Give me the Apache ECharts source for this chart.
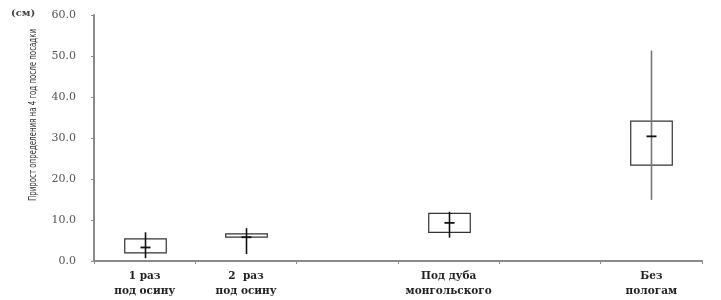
<!DOCTYPE html>
<html><head><meta charset="utf-8">
<script src="https://cdn.jsdelivr.net/npm/echarts@6/dist/echarts.min.js"></script>
<style>html,body{margin:0;padding:0;background:#fff}#c{width:721px;height:300px}</style>
</head><body><div id="c"></div>
<script>
const categories = ['1 раз\nпод осину', '2  раз\nпод осину', '', 'Под дуба\nмонгольского', '', 'Без\nпологам'];
const boxCategoryIndex = [0, 1, 3, 5];
const lowValues  = [0.7, 1.7, 5.7, 14.9];
const q1Values   = [2.0, 5.8, 7.0, 23.4];
const meanValues = [3.3, 5.8, 9.3, 30.4];
const q3Values   = [5.4, 6.6, 11.6, 34.1];
const highValues = [7.0, 8.0, 12.0, 51.3];
const yTicks = [0, 10, 20, 30, 40, 50, 60];
const yAxisTitle = 'Прирост определения на 4 год после посадки';
const unitLabel = '(см)';

const data = boxCategoryIndex.map((c, i) => [c, lowValues[i], q1Values[i], meanValues[i], q3Values[i], highValues[i]]);

const chart = echarts.init(document.getElementById('c'));
chart.setOption({
  animation: false,
  backgroundColor: '#fff',
  grid: { left: 94, right: 19, top: 15, bottom: 39 },
  xAxis: {
    type: 'category', data: categories, boundaryGap: true,
    axisLine: { lineStyle: { color: '#8a8a8a', width: 2 } },
    axisTick: { show: true, length: 3, lineStyle: { color: '#8a8a8a' } },
    axisLabel: { fontFamily: 'DejaVu Serif', fontWeight: 'bold', fontSize: 10.5, color: '#222', lineHeight: 15, margin: 8, interval: 0 }
  },
  yAxis: {
    type: 'value', min: yTicks[0], max: yTicks[yTicks.length - 1], interval: 10,
    splitLine: { show: false },
    axisLine: { show: true, lineStyle: { color: '#8a8a8a', width: 2 } },
    axisTick: { show: true, length: 3, lineStyle: { color: '#8a8a8a' } },
    axisLabel: { fontFamily: 'DejaVu Serif', fontSize: 11, color: '#555', margin: 18, formatter: v => v.toFixed(1) }
  },
  graphic: [
    { type: 'text', left: 11, top: 8, style: { text: unitLabel, font: 'bold 10px DejaVu Serif', fill: '#444' } },
    { type: 'text', x: 28, y: 201, rotation: Math.PI / 2, scaleX: 0.71,
      style: { text: yAxisTitle, font: '11px DejaVu Sans Condensed', fill: '#333', textVerticalAlign: 'top' } }
  ],
  series: [{
    type: 'custom',
    data: data,
    encode: { x: 0, y: [1, 2, 3, 4, 5] },
    renderItem: function (params, api) {
      const c = api.value(0);
      const pLow = api.coord([c, api.value(1)]);
      const pQ1 = api.coord([c, api.value(2)]);
      const pMean = api.coord([c, api.value(3)]);
      const pQ3 = api.coord([c, api.value(4)]);
      const pHigh = api.coord([c, api.value(5)]);
      const w = api.size([1, 0])[0] * 0.41;
      const x = Math.round(pQ1[0]) + 0.5;
      return {
        type: 'group',
        children: [
          { type: 'rect', shape: { x: x - w / 2, y: pQ3[1], width: w, height: pQ1[1] - pQ3[1] },
            style: { fill: '#fff', stroke: '#333', lineWidth: 1.2 } },
          { type: 'line', shape: { x1: x, y1: pHigh[1], x2: x, y2: pLow[1] },
            style: { stroke: params.dataIndex === 3 ? '#777' : '#111', lineWidth: 1.6 } },
          { type: 'line', shape: { x1: x - 5, y1: pMean[1], x2: x + 5, y2: pMean[1] },
            style: { stroke: '#111', lineWidth: 1.8 } }
        ]
      };
    }
  }]
});
</script></body></html>
